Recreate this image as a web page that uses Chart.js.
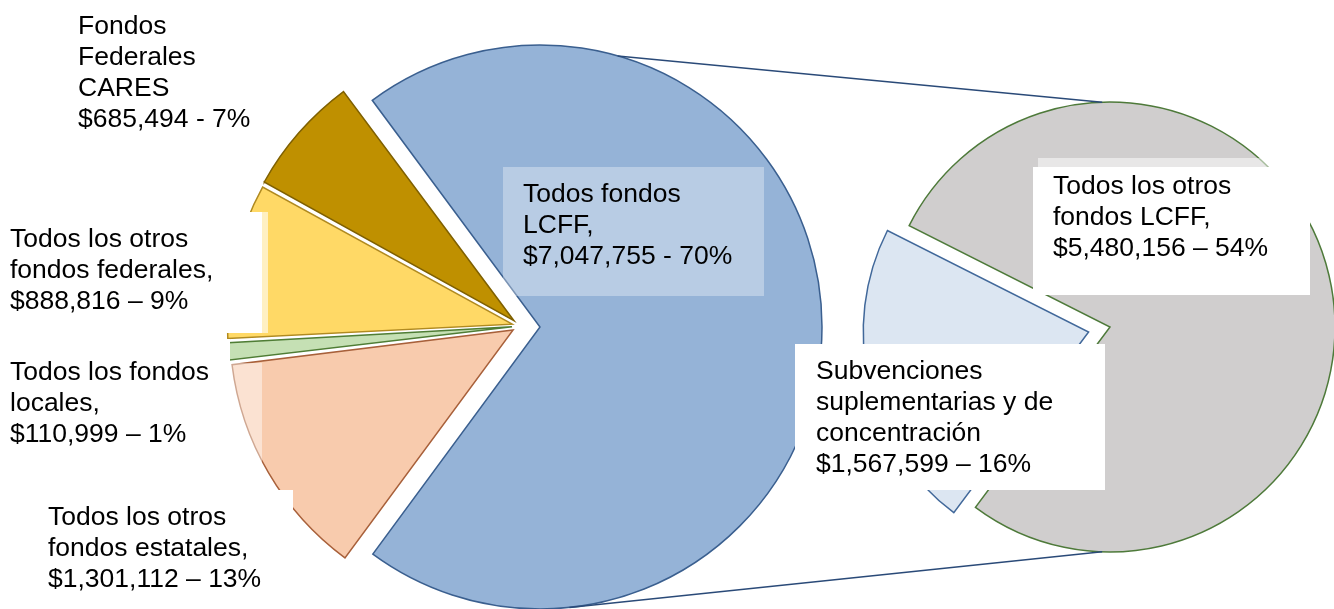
<!DOCTYPE html>
<html><head><meta charset="utf-8">
<script src="https://cdn.jsdelivr.net/npm/chart.js@4.4.1/dist/chart.umd.min.js"></script>
<style>
html,body{margin:0;padding:0;background:#fff;overflow:hidden}
#wrap{position:relative;width:1334px;height:609px}
canvas{position:absolute;left:0;top:0}
</style></head><body>
<div id="wrap">
<canvas id="c1" width="1334" height="609"></canvas>
<canvas id="c2" width="1334" height="609"></canvas>
<canvas id="c3" width="1334" height="609"></canvas>
</div>
<script>
// ---------- DATA ----------
const primaryCategories = ['Todos fondos LCFF', 'Todos los otros fondos estatales', 'Todos los fondos locales', 'Todos los otros fondos federales', 'Fondos Federales CARES'];
const primaryValues = [7047755, 1301112, 110999, 888816, 685494];
const primaryPercents = [70, 13, 1, 9, 7];
const primaryLabelLines = [['Todos fondos', 'LCFF,'], ['Todos los otros', 'fondos estatales,'], ['Todos los fondos', 'locales,'], ['Todos los otros', 'fondos federales,'], ['Fondos', 'Federales', 'CARES']];
const primarySeparators = [' - ', ' \u2013 ', ' \u2013 ', ' \u2013 ', ' - '];

const secondaryCategories = ['Todos los otros fondos LCFF', 'Subvenciones suplementarias y de concentraci\u00f3n'];
const secondaryValues = [5480156, 1567599];
const secondaryPercents = [54, 16];
const secondaryLabelLines = [['Todos los otros', 'fondos LCFF,'], ['Subvenciones', 'suplementarias y de', 'concentraci\u00f3n']];
const secondarySeparators = [' \u2013 ', ' \u2013 '];

// ---------- STYLE / LAYOUT ----------
const W = 1334, H = 609;
const TRANSPARENT = 'rgba(0,0,0,0)';
const primaryFill = ['#95b3d7', '#f8cbad', '#c5e0b4', '#ffd966', '#bf9000'];
const primaryBorder = ['#3a5f8f', '#a8603a', '#4f7d35', '#b08a20', '#7f6000'];
const secondaryFill = ['#d0cece', '#dce6f2'];
const secondaryBorder = ['#4e7a3a', '#41689a'];

const FONT = '26.5px "Liberation Sans", Arial, sans-serif';
const LINE_H = 31;

const primaryLabelLayout = [
  {box: [503, 167, 764, 296], bg: 'rgba(255,255,255,0.33)', x: 523, y: 202},
  {box: [42, 490, 293, 609], bg: '#ffffff', x: 48, y: 525},
  {box: [0, 339, 230, 473], bg: '#ffffff', x: 10, y: 380, fade: [230, 363, 262, 473, 0.45]},
  {box: [0, 212, 262, 333], bg: '#ffffff', x: 10, y: 247, fade: [262, 212, 268, 333, 0.6]},
  {box: [0, 0, 262, 136], bg: '#ffffff', x: 78, y: 34}
];
const secondaryLabelLayout = [
  {box: [1033, 167, 1310, 295], bg: '#ffffff', x: 1053, y: 194, fade: [1038, 158, 1302, 167, 0.5]},
  {box: [795, 344, 1105, 490], bg: '#ffffff', x: 816, y: 379}
];

function padFor(cx, cy) {
  return {left: Math.max(0, 2 * cx - W), right: Math.max(0, W - 2 * cx),
          top: Math.max(0, 2 * cy - H), bottom: Math.max(0, H - 2 * cy)};
}
function baseOptions(cx, cy, radius, rotation) {
  return {
    responsive: false, animation: false, events: [],
    radius: radius, rotation: rotation,
    layout: {padding: padFor(cx, cy)},
    plugins: {legend: {display: false}, tooltip: {enabled: false}}
  };
}
const money = v => '$' + v.toLocaleString('en-US');

// ---------- PRIMARY PIE: small slices (slightly exploded) ----------
const chartOthers = new Chart(document.getElementById('c1'), {
  type: 'pie',
  data: {
    labels: primaryCategories,
    datasets: [{
      data: primaryValues,
      backgroundColor: primaryFill.map((c, i) => i === 0 ? TRANSPARENT : c),
      borderColor: primaryBorder.map((c, i) => i === 0 ? TRANSPARENT : c),
      borderWidth: primaryValues.map((v, i) => i === 0 ? 0 : 1.5),
      borderJoinStyle: 'miter',
      offset: primaryValues.map((v, i) => i === 0 ? 0 : 32),
      clip: false
    }]
  },
  options: baseOptions(520, 326, 281, -36.5)
});

// ---------- PRIMARY PIE: LCFF slice (exploded) ----------
const chartLCFF = new Chart(document.getElementById('c2'), {
  type: 'pie',
  data: {
    labels: primaryCategories,
    datasets: [{
      data: primaryValues,
      backgroundColor: primaryFill.map((c, i) => i === 0 ? c : TRANSPARENT),
      borderColor: primaryBorder.map((c, i) => i === 0 ? c : TRANSPARENT),
      borderWidth: primaryValues.map((v, i) => i === 0 ? 1.5 : 0),
      borderJoinStyle: 'miter',
      clip: false
    }]
  },
  options: baseOptions(540, 327, 282, -36.5)
});

// ---------- overlay plugin: series lines + labels ----------
const overlayPlugin = {
  id: 'overlay',
  afterDraw(chart) {
    const ctx = chart.ctx;
    const blue = chartLCFF.getDatasetMeta(0).data[0];
    const gray = chart.getDatasetMeta(0).data[0];
    const pt = (el, deg) => {
      const a = deg * Math.PI / 180;
      return [el.x + el.outerRadius * Math.sin(a), el.y - el.outerRadius * Math.cos(a)];
    };
    ctx.save();
    ctx.strokeStyle = '#2a4a78';
    ctx.lineWidth = 1.5;
    const lines = [[pt(blue, 16), pt(gray, -2)], [pt(blue, 174), pt(gray, 182)]];
    lines.forEach(([a, b]) => {
      ctx.beginPath(); ctx.moveTo(a[0], a[1]); ctx.lineTo(b[0], b[1]); ctx.stroke();
    });

    const drawLabel = (lay, lines) => {
      const [x0, y0, x1, y1] = lay.box;
      ctx.fillStyle = lay.bg;
      ctx.fillRect(x0, y0, x1 - x0, y1 - y0);
      if (lay.fade) {
        const [fx0, fy0, fx1, fy1, a] = lay.fade;
        ctx.fillStyle = 'rgba(255,255,255,' + a + ')';
        ctx.fillRect(fx0, fy0, fx1 - fx0, fy1 - fy0);
      }
      ctx.fillStyle = '#000';
      ctx.font = FONT;
      ctx.textAlign = 'left';
      ctx.textBaseline = 'alphabetic';
      lines.forEach((t, k) => ctx.fillText(t, lay.x, lay.y + k * LINE_H));
    };
    primaryCategories.forEach((c, i) => {
      const lines = primaryLabelLines[i].concat([money(primaryValues[i]) + primarySeparators[i] + primaryPercents[i] + '%']);
      drawLabel(primaryLabelLayout[i], lines);
    });
    secondaryCategories.forEach((c, i) => {
      const lines = secondaryLabelLines[i].concat([money(secondaryValues[i]) + secondarySeparators[i] + secondaryPercents[i] + '%']);
      drawLabel(secondaryLabelLayout[i], lines);
    });
    ctx.restore();
  }
};

// ---------- SECONDARY PIE ----------
const chartSecondary = new Chart(document.getElementById('c3'), {
  type: 'pie',
  data: {
    labels: secondaryCategories,
    datasets: [{
      data: secondaryValues,
      backgroundColor: secondaryFill,
      borderColor: secondaryBorder,
      borderWidth: 1.5,
      borderJoinStyle: 'miter',
      offset: [0, 88],
      clip: false
    }]
  },
  options: baseOptions(1110, 327, 225, -63.2),
  plugins: [overlayPlugin]
});
</script>
</body></html>
